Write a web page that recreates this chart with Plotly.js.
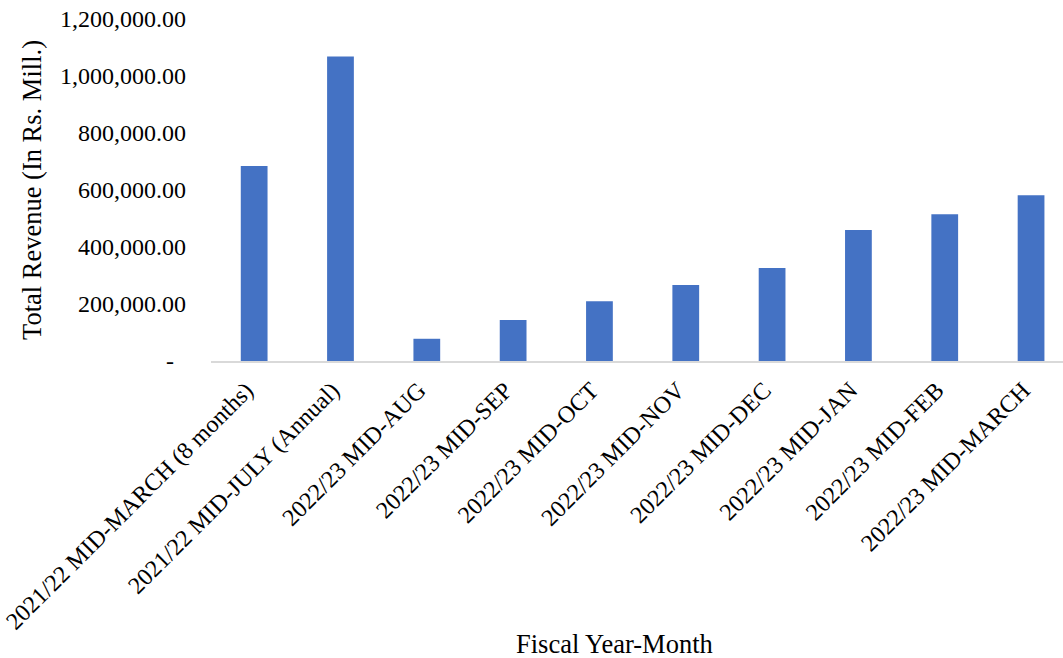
<!DOCTYPE html>
<html>
<head>
<meta charset="utf-8">
<script src="https://cdn.plot.ly/plotly-3.0.1.min.js"></script>
<style>html,body{margin:0;padding:0;background:#fff;}#chart{width:1063px;height:658px;}</style>
</head>
<body>
<div id="chart"></div>
<script>
const categories = [
  "2021/22 MID-MARCH (8 months)",
  "2021/22 MID-JULY (Annual)",
  "2022/23 MID-AUG",
  "2022/23 MID-SEP",
  "2022/23 MID-OCT",
  "2022/23 MID-NOV",
  "2022/23 MID-DEC",
  "2022/23 MID-JAN",
  "2022/23 MID-FEB",
  "2022/23 MID-MARCH"
];
const totalRevenue = [684000, 1068000, 78000, 144000, 209500, 267000, 326000, 459500, 515000, 581500];
const yTickVals = [0, 200000, 400000, 600000, 800000, 1000000, 1200000];
const yTickText = ["-\u00a0\u00a0", "200,000.00", "400,000.00", "600,000.00", "800,000.00", "1,000,000.00", "1,200,000.00"];
const xTitle = "Fiscal Year-Month";
const yTitle = "Total Revenue (In Rs. Mill.)";

const font = "Liberation Serif, Times New Roman, serif";

Plotly.newPlot("chart", [{
  type: "bar",
  x: categories,
  y: totalRevenue,
  marker: {color: "#4472C4"},
  hoverinfo: "x+y"
}], {
  width: 1063,
  height: 658,
  margin: {l: 211, r: 0, t: 19, b: 297, pad: 0},
  paper_bgcolor: "#ffffff",
  plot_bgcolor: "#ffffff",
  bargap: 0.69,
  showlegend: false,
  font: {family: font, color: "#000000", size: 24},
  xaxis: {
    type: "category",
    range: [-0.5, 9.37],
    tickangle: -45,
    showgrid: false,
    zeroline: false,
    showline: true,
    linecolor: "#D9D9D9",
    linewidth: 1.5,
    ticks: "",
    ticklabelshift: -8,
    ticklabelstandoff: 4,
    tickfont: {family: font, size: 24, color: "#000000"},
    automargin: false
  },
  yaxis: {
    range: [0, 1200000],
    tickvals: yTickVals,
    ticktext: yTickText,
    showgrid: false,
    zeroline: false,
    showline: false,
    ticks: "",
    ticklabelstandoff: 24,
    tickfont: {family: font, size: 24, color: "#000000"},
    automargin: false,
    title: {text: yTitle, font: {family: font, size: 26.5, color: "#000000"}, standoff: 10}
  },
  annotations: [{
    text: xTitle,
    xref: "paper", yref: "paper",
    x: 0.474, y: -0.8275,
    xanchor: "center", yanchor: "middle",
    showarrow: false,
    font: {family: font, size: 26.5, color: "#000000"}
  }]
}, {displayModeBar: false, responsive: false});
</script>
</body>
</html>
